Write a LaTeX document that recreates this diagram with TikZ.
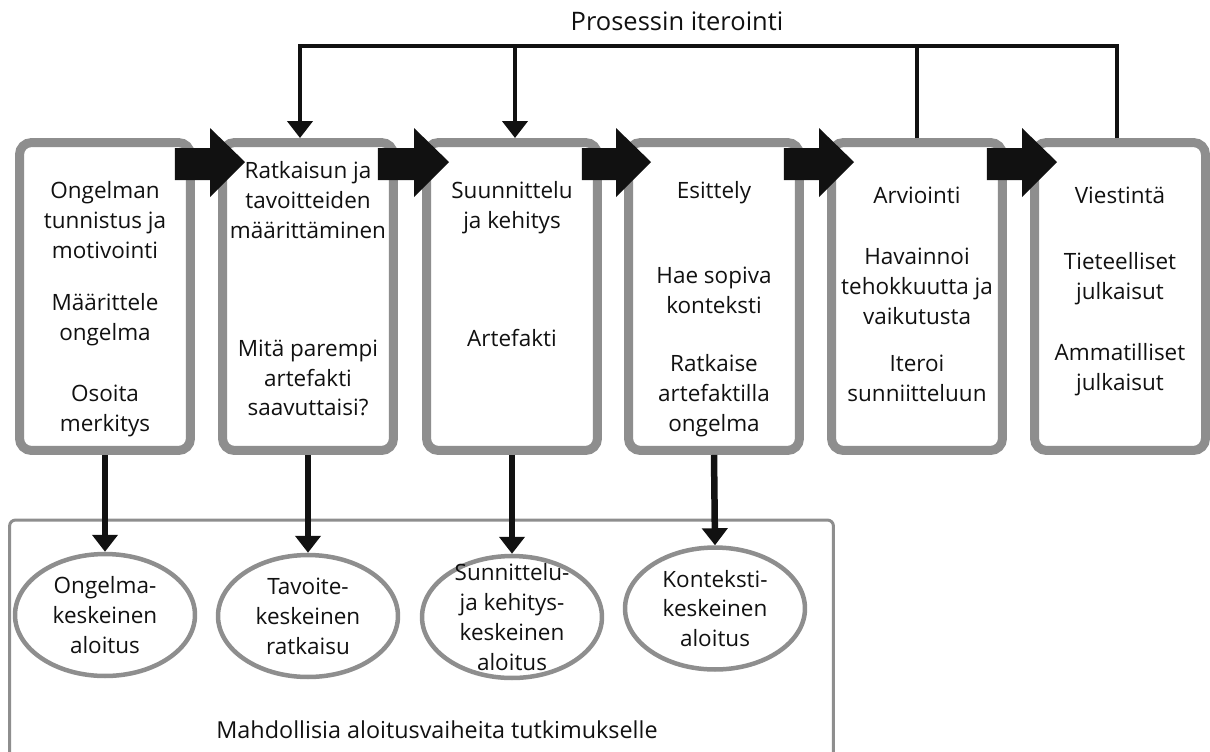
\documentclass[tikz,border=0pt]{standalone}
\usepackage{fontspec}
\setmainfont{Open Sans}
\usetikzlibrary{arrows.meta,calc,shapes.geometric}
\definecolor{frame}{HTML}{8E8E8E}
\definecolor{ink}{HTML}{111111}

% thick block arrow joining two neighbouring stage boxes
\newcommand\stagearrow[2]{%
  \fill[ink] ($(#1.north east)+(-20,10)$) -- ($(#2.north west)+(-8,10)$)
    -- ($(#2.north west)+(-8,-10)$) -- ($(#2.north west)+(27,24)$)
    -- ($(#2.north west)+(-8,59)$) -- ($(#2.north west)+(-8,42)$)
    -- ($(#1.north east)+(-20,42)$) -- cycle;}

\begin{document}
\begin{tikzpicture}[x=0.02cm,y=-0.02cm,
  stage/.style={draw=frame, line width=0.18cm, rounded corners=0.24cm, fill=white,
    minimum width=3.42cm, minimum height=6.16cm, inner sep=0pt},
  txt/.style={align=center, text=ink, font=\fontsize{12.8}{17}\selectfont, inner sep=0pt},
  startpt/.style={ellipse, draw=frame, line width=0.09cm, fill=white,
    minimum width=3.6cm, minimum height=2.44cm, inner sep=0pt},
  tip/.style={-{Triangle[width=0.5cm,length=0.34cm]}},
  down/.style={draw=ink, line width=0.13cm, tip},
  loopline/.style={draw=ink, line width=0.09cm},
]
\useasboundingbox (0,0) rectangle (1210,751);

% frame around the possible entry points
\node[draw=frame, line width=0.06cm, rounded corners=0.12cm, minimum width=16.48cm,
  minimum height=5.2cm, inner sep=0pt] (pool) at (421.5,650) {};
\node[txt, font=\fontsize{13.3}{17}\selectfont] (poollabel) at (437,730)
  {Mahdollisia aloitusvaiheita tutkimukselle};

% process stages
\node[stage] (b1) at (105,296.5) {};
\node[stage] (b2) at (308,296.5) {};
\node[stage] (b3) at (512,296.5) {};
\node[stage] (b4) at (714,296.5) {};
\node[stage] (b5) at (917,296.5) {};
\node[stage] (b6) at (1120,296.5) {};

\node[txt] (t1a) at (105,220) {Ongelman\\tunnistus ja\\motivointi};
\node[txt] (t1b) at (105,320) {Määrittele\\ongelma};
\node[txt] (t1c) at (105,411) {Osoita\\merkitys};

\node[txt] (t2a) at (308,200) {Ratkaisun ja\\tavoitteiden\\määrittäminen};
\node[txt] (t2b) at (308,378) {Mitä parempi\\artefakti\\saavuttaisi?};

\node[txt] (t3a) at (512,208) {Suunnittelu\\ja kehitys};
\node[txt] (t3b) at (512,338) {Artefakti};

\node[txt] (t4a) at (714,193) {Esittely};
\node[txt] (t4b) at (714,290) {Hae sopiva\\konteksti};
\node[txt] (t4c) at (714,396) {Ratkaise\\artefaktilla\\ongelma};

\node[txt] (t5a) at (917,195) {Arviointi};
\node[txt] (t5b) at (917,286) {Havainnoi\\tehokkuutta ja\\vaikutusta};
\node[txt] (t5c) at (917,378) {Iteroi\\sunniitteluun};

\node[txt] (t6a) at (1120,195) {Viestintä};
\node[txt] (t6b) at (1120,279) {Tieteelliset\\julkaisut};
\node[txt] (t6c) at (1120,370) {Ammatilliset\\julkaisut};

% arrows between stages
\stagearrow{b1}{b2}
\stagearrow{b2}{b3}
\stagearrow{b3}{b4}
\stagearrow{b4}{b5}
\stagearrow{b5}{b6}

% iteration loop
\coordinate (itL) at (300,46);
\coordinate (itM) at (515,46);
\coordinate (itR) at (1117,46);
\node[txt, font=\fontsize{14.5}{17}\selectfont] (ittitle) at (677,21) {Prosessin iterointi};
\draw[loopline, tip] (b6.north -| itR) -- (itR) -- (itL) -- (itL |- b2.north);
\draw[loopline] (b5.north) -- (b5.north |- itL);
\draw[loopline, tip] (itM) -- (itM |- b3.north);

% entry points
\node[startpt] (e1) at (105,615) {};
\node[startpt] (e2) at (308,616) {};
\node[startpt] (e3) at (512,617) {};
\node[startpt] (e4) at (715,608.5) {};

\node[txt] (e1t) at (e1) {Ongelma-\\keskeinen\\aloitus};
\node[txt] (e2t) at (e2) {Tavoite-\\keskeinen\\ratkaisu};
\node[txt] (e3t) at (e3) {Sunnittelu-\\ja kehitys-\\keskeinen\\aloitus};
\node[txt] (e4t) at (e4) {Konteksti-\\keskeinen\\aloitus};

\draw[down] (b1.south) -- (e1.north);
\draw[down] (b2.south) -- (e2.north);
\draw[down] (b3.south) -- (e3.north);
\draw[down] (b4.south) -- (e4.north);
\end{tikzpicture}
\end{document}
